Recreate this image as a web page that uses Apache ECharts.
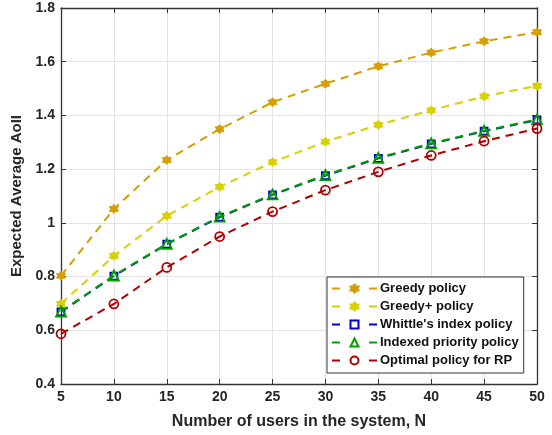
<!DOCTYPE html>
<html>
<head>
<meta charset="utf-8">
<script src="https://cdn.jsdelivr.net/npm/echarts@6/dist/echarts.min.js"></script>
<style>html,body{margin:0;padding:0;background:#fff}#c{width:552px;height:435px}</style>
</head>
<body>
<div id="c"></div>
<script>
var users = [5, 10, 15, 20, 25, 30, 35, 40, 45, 50];
var greedy = [0.803, 1.052, 1.234, 1.349, 1.449, 1.518, 1.583, 1.634, 1.676, 1.710];
var greedyPlus = [0.699, 0.877, 1.026, 1.134, 1.226, 1.302, 1.365, 1.419, 1.471, 1.510];
var whittle = [0.668, 0.802, 0.921, 1.021, 1.104, 1.176, 1.240, 1.294, 1.341, 1.383];
var indexed = [0.670, 0.804, 0.922, 1.023, 1.106, 1.178, 1.242, 1.296, 1.343, 1.385];
var optimal = [0.587, 0.698, 0.834, 0.949, 1.042, 1.122, 1.190, 1.251, 1.304, 1.351];
var yTicks = [0.4, 0.6, 0.8, 1.0, 1.2, 1.4, 1.6, 1.8];

var hexagram = 'path://M0,-10 L3.2,-5.6 L8.66,-5 L6.2,0 L8.66,5 L3.2,5.6 L0,10 L-3.2,5.6 L-8.66,5 L-6.2,0 L-8.66,-5 L-3.2,-5.6 Z';
var FONT = 'Liberation Sans';
var AX = '#333333';

function pairs(arr) { return users.map(function (u, i) { return [u, arr[i]]; }); }

function mk(name, data, color, symbol, size, filled, z) {
  return {
    name: name, type: 'line', data: pairs(data), z: z,
    symbol: symbol, symbolSize: size,
    lineStyle: { color: color, width: 2, type: [8, 6] },
    itemStyle: filled ? { color: color, borderColor: color, borderWidth: 1 } : { color: 'none', borderColor: color, borderWidth: 1.8 },
    emphasis: { disabled: true }
  };
}

var chart = echarts.init(document.getElementById('c'));
chart.setOption({
  animation: false,
  textStyle: { fontFamily: FONT },
  grid: { left: 61, right: 15, top: 8, bottom: 51, show: false, containLabel: false, outerBoundsMode: 'none' },
  legend: {
    orient: 'vertical', left: 327, top: 277,
    backgroundColor: '#fff', borderColor: '#333', borderWidth: 1,
    padding: [5, 5, 6, 4], itemGap: 5, itemWidth: 45, itemHeight: 10,
    textStyle: { fontFamily: FONT, fontWeight: 'bold', fontSize: 13, color: '#111', padding: [0, 0, 0, -2] },
    lineStyle: { type: [8, 29], width: 2 },
    data: ['Greedy policy', 'Greedy+ policy', "Whittle's index policy", 'Indexed priority policy', 'Optimal policy for RP']
  },
  xAxis: [{
    type: 'value', min: 5, max: 50, interval: 5,
    name: 'Number of users in the system, N', nameLocation: 'middle', nameGap: 30,
    nameTextStyle: { fontFamily: FONT, fontWeight: 'bold', fontSize: 16, color: '#262626' },
    axisLine: { lineStyle: { color: AX, width: 1.3 } },
    axisTick: { inside: true, length: 5, lineStyle: { color: AX } },
    axisLabel: { fontFamily: FONT, fontWeight: 'bold', fontSize: 14, color: '#262626', margin: 6 },
    splitLine: { show: true, lineStyle: { color: '#e3e3e3', width: 1 } }
  }, {
    type: 'value', min: 5, max: 50, interval: 5, position: 'top',
    axisLine: { show: true, lineStyle: { color: AX, width: 1.3 } },
    axisTick: { inside: true, length: 5, lineStyle: { color: AX } },
    axisLabel: { show: false }, splitLine: { show: false }
  }],
  yAxis: [{
    type: 'value', min: 0.4, max: 1.8, interval: 0.2,
    name: 'Expected Average AoII', nameLocation: 'middle', nameGap: 35,
    nameTextStyle: { fontFamily: FONT, fontWeight: 'bold', fontSize: 15, color: '#262626' },
    axisLine: { show: true, lineStyle: { color: AX, width: 1.3 } },
    axisTick: { show: true, inside: true, length: 5, lineStyle: { color: AX } },
    axisLabel: {
      fontFamily: FONT, fontWeight: 'bold', fontSize: 14, color: '#262626', margin: 6,
      formatter: function (v) { return Math.abs(v - 1) < 1e-9 ? '1' : v.toFixed(1); }
    },
    splitLine: { show: true, lineStyle: { color: '#e3e3e3', width: 1 } }
  }, {
    type: 'value', min: 0.4, max: 1.8, interval: 0.2, position: 'right',
    axisLine: { show: true, lineStyle: { color: AX, width: 1.3 } },
    axisTick: { show: true, inside: true, length: 5, lineStyle: { color: AX } },
    axisLabel: { show: false }, splitLine: { show: false }
  }],
  series: [
    mk('Greedy policy', greedy, '#D69E00', hexagram, 9, true, 2),
    mk('Greedy+ policy', greedyPlus, '#D8D000', hexagram, 9, true, 3),
    mk("Whittle's index policy", whittle, '#0000C8', 'rect', 7, false, 4),
    mk('Indexed priority policy', indexed, '#00A000', 'triangle', 10, false, 5),
    mk('Optimal policy for RP', optimal, '#B00000', 'circle', 9, false, 6)
  ]
});
</script>
</body>
</html>
